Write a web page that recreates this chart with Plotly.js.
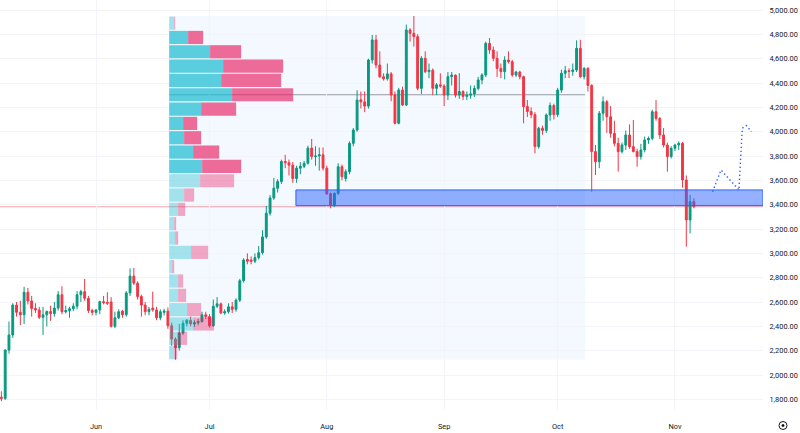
<!DOCTYPE html>
<html><head><meta charset="utf-8">
<script src="https://cdn.plot.ly/plotly-3.0.1.min.js"></script>
<style>html,body{margin:0;padding:0;background:#fff}#chart{width:800px;height:433px}</style>
</head><body><div id="chart"></div>
<script>
// ---- Daily candles from 2025-05-07 ----
const startDate = '2025-05-07';
const opens = [
1818,1808,2205,2329,2575,2515,2495,2680,2608,2547,2535,2474,2495,2522,2505,2550,2660,2520,2530,2545,2565,2660,2685,2630,2530,
2515,2535,2603,2598,2600,2400,2470,2525,2495,2675,2813,2755,2645,2575,2520,2550,2535,2470,2515,2525,2405,2295,2225,2345,2425,2450,2420,2430,2440,2495,
2480,2405,2565,2585,2510,2520,2560,2540,2615,2775,2950,2945,2935,2965,3005,3135,3330,3455,3535,3590,3755,3745,3725,3615,3700,3715,3740,3865,3795,3800,3810,
3700,3490,3395,3493,3712,3615,3671,3904,4014,4262,4245,4210,4589,4754,4548,4452,4435,4475,4301,4069,4342,4219,4836,4808,4781,4356,4603,4493,4505,4356,4385,
4375,4301,4452,4465,4301,4330,4290,4300,4310,4355,4425,4466,4726,4671,4603,4520,4493,4589,4575,4466,4490,4452,4206,4165,4140,3877,4028,4010,4137,4215,
4140,4342,4480,4500,4495,4507,4685,4452,4520,4380,3836,3753,4151,4246,4123,3986,3904,3836,3890,3973,3877,3836,3795,3850,3932,3945,4164,4109,3973,3890,3795,
3863,3890,3904,3603,3274,3425];
const highs = [
1866,2212,2440,2590,2600,2610,2725,2715,2650,2590,2560,2560,2530,2570,2600,2690,2730,2570,2560,2590,2690,2700,2790,2650,2545,
2540,2610,2650,2680,2640,2520,2540,2535,2690,2876,2880,2770,2660,2600,2560,2685,2560,2540,2545,2555,2430,2310,2420,2450,2460,2480,2450,2460,2520,2520,
2500,2620,2640,2595,2540,2590,2600,2630,2790,2960,3000,2975,3000,3060,3190,3390,3480,3620,3610,3770,3810,3770,3750,3720,3750,3760,3885,3940,3880,3870,3870,
3720,3500,3500,3740,3730,3690,3920,4030,4340,4330,4330,4600,4795,4795,4660,4480,4560,4490,4330,4360,4370,4880,4850,4951,4800,4620,4660,4560,4520,4400,4480,
4390,4490,4490,4470,4480,4340,4330,4380,4380,4450,4480,4740,4770,4700,4660,4560,4620,4660,4590,4500,4500,4460,4260,4200,4160,4040,4050,4150,4240,4230,
4360,4510,4540,4520,4560,4750,4755,4530,4530,4390,3890,4170,4290,4260,4210,4090,3950,3910,4010,4060,4096,3860,3900,3960,3960,4180,4260,4120,4030,3910,3880,
3900,3920,3915,3640,3480,3452];
const lows = [
1785,1795,2175,2305,2480,2410,2420,2580,2480,2510,2460,2330,2400,2445,2480,2530,2500,2505,2470,2525,2540,2600,2610,2510,2490,
2490,2500,2580,2575,2390,2385,2460,2470,2480,2650,2740,2620,2480,2490,2490,2520,2450,2450,2490,2380,2240,2125,2200,2330,2400,2400,2395,2410,2430,2460,
2390,2395,2550,2500,2495,2505,2510,2520,2600,2760,2910,2910,2920,2950,2990,3120,3310,3440,3500,3570,3700,3640,3580,3580,3650,3700,3730,3770,3720,3680,3680,
3480,3370,3380,3480,3600,3590,3650,3880,4000,4190,4160,4190,4560,4520,4440,4420,4420,4250,4060,4060,4210,4210,4740,4700,4340,4310,4480,4440,4300,4300,4360,
4210,4260,4380,4280,4270,4260,4260,4270,4285,4340,4390,4450,4640,4580,4450,4440,4430,4560,4450,4450,4430,4069,4120,4110,3822,3860,3975,3990,4090,4100,
4120,4320,4440,4440,4460,4490,4440,4430,4330,3507,3644,3700,4090,3990,3950,3880,3671,3820,3850,3860,3830,3712,3770,3830,3900,3930,4090,3940,3870,3671,3780,
3840,3850,3540,3055,3164,3370];
const closes = [
1808,2205,2329,2575,2515,2495,2680,2608,2547,2535,2474,2495,2522,2505,2550,2660,2520,2530,2545,2565,2660,2685,2630,2530,2515,
2535,2603,2595,2590,2400,2470,2520,2495,2675,2813,2755,2645,2575,2520,2540,2535,2470,2520,2525,2405,2295,2225,2345,2425,2450,2420,2430,2440,2495,2480,
2405,2565,2585,2510,2520,2560,2540,2615,2775,2945,2935,2935,2965,3005,3135,3330,3455,3535,3590,3755,3745,3725,3615,3700,3715,3740,3865,3795,3800,3810,3700,
3490,3395,3493,3712,3630,3671,3904,4014,4260,4245,4210,4589,4754,4548,4452,4435,4475,4301,4069,4342,4219,4836,4808,4781,4356,4603,4493,4505,4356,4385,4375,
4301,4452,4465,4301,4330,4290,4300,4310,4355,4425,4466,4726,4671,4603,4520,4493,4589,4575,4466,4490,4452,4206,4165,4140,3877,4028,4010,4137,4215,4140,
4342,4480,4500,4495,4507,4685,4452,4520,4380,3836,3753,4151,4246,4123,3986,3904,3836,3890,3973,3877,3836,3795,3850,3932,3945,4164,4109,3973,3890,3795,3863,
3890,3904,3603,3274,3425,3383];

// ---- Fixed range volume profile (rows listed top to bottom) ----
const profileStart = '2025-06-20 08:00';
const profileEnd = '2025-10-08 06:00';
const upVolume   = [5,19,41,54,52,63,32,14,15,24,33,31,15,9,5,6,22,3,9,9,18,24,8,5];
const downVolume = [1,15,31,60,60,61,35,14,17,26,39,34,10,7,2,3,17,2,5,8,14,21,10,3];
const inValueArea = [0,1,1,1,1,1,1,1,1,1,1,0,0,0,0,0,0,0,0,0,0,0,0,0];

// ---- Support zone and projected path ----
const zoneStart = '2025-07-23 20:00';
const zoneLow = 3392, zoneHigh = 3521;
const projDates = ['2025-11-10 23:00','2025-11-13 04:00','2025-11-17 22:00','2025-11-18 19:00','2025-11-19 22:00','2025-11-21 05:00'];
const projPrices = [3507, 3685, 3521, 4028, 4049, 4000];

// ---- Axes ----
const xRange = ['2025-05-06 15:07', '2025-11-24 06:28'];
const yRange = [1712.4, 5082.2];
const priceStep = 200;

// build dates
const dates = opens.map((_, i) => {
  const d = new Date(Date.UTC(2025, 4, 7 + i));
  return d.toISOString().slice(0, 10);
});

// profile price range from candles in window
const t0 = new Date(profileStart.replace(' ', 'T') + 'Z').getTime();
const t1 = new Date(profileEnd.replace(' ', 'T') + 'Z').getTime();
let pHigh = -Infinity, pLow = Infinity;
dates.forEach((d, i) => {
  const t = new Date(d + 'T00:00Z').getTime();
  if (t >= t0 - 86400000 / 2 && t <= t1) { pHigh = Math.max(pHigh, highs[i]); pLow = Math.min(pLow, lows[i]); }
});
const nRows = upVolume.length;
const rowH = (pHigh - pLow) / nRows;
const rowCenters = upVolume.map((_, i) => pHigh - (i + 0.5) * rowH);
const totals = upVolume.map((u, i) => u + downVolume[i]);
const pocIdx = totals.indexOf(Math.max(...totals));
const pocPrice = rowCenters[pocIdx];

const upColors = inValueArea.map(v => v ? 'rgba(31,188,210,0.72)' : 'rgba(31,188,210,0.38)');
const dnColors = inValueArea.map(v => v ? 'rgba(233,30,99,0.65)' : 'rgba(233,30,99,0.38)');

// xaxis2 so that profile starts at profileStart
const xs = new Date(xRange[0].replace(' ', 'T') + 'Z').getTime();
const xe = new Date(xRange[1].replace(' ', 'T') + 'Z').getTime();
const frac = (t0 - xs) / (xe - xs);
const pocWidthFrac = 0.1625;
const span = Math.max(...totals) / pocWidthFrac;
const x2Range = [-frac * span, (1 - frac) * span];

const font = {family: 'Roboto, Arial, sans-serif', size: 7.4, color: '#131722'};

const traces = [
  {
    type: 'candlestick', x: dates, open: opens, high: highs, low: lows, close: closes,
    increasing: {line: {color: '#089981', width: 1}, fillcolor: '#089981'},
    decreasing: {line: {color: '#f23645', width: 1}, fillcolor: '#f23645'},
    whiskerwidth: 0, hoverinfo: 'skip', xaxis: 'x', yaxis: 'y'
  },
  {
    type: 'bar', orientation: 'h', y: rowCenters, x: upVolume, base: upVolume.map(() => 0),
    width: rowH * 0.92, marker: {color: upColors, line: {width: 0}},
    xaxis: 'x2', yaxis: 'y', hoverinfo: 'skip'
  },
  {
    type: 'bar', orientation: 'h', y: rowCenters, x: downVolume, base: upVolume,
    width: rowH * 0.92, marker: {color: dnColors, line: {width: 0}},
    xaxis: 'x2', yaxis: 'y', hoverinfo: 'skip'
  },
  {
    type: 'scatter', mode: 'lines', x: projDates, y: projPrices,
    line: {color: '#2962ff', width: 1.4, dash: '1.4px,2.6px'}, xaxis: 'x', yaxis: 'y', hoverinfo: 'skip'
  }
];

const W = 800, H = 433, mL = 0, mR = 37, mT = 0, mB = 23;
const pw = W - mL - mR, ph = H - mT - mB;
const px2paperX = p => (p - mL) / pw;
const px2paperY = p => (H - mB - p) / ph;

const layout = {
  width: W, height: H,
  margin: {l: mL, r: mR, t: mT, b: mB, pad: 0},
  paper_bgcolor: '#ffffff', plot_bgcolor: '#ffffff',
  showlegend: false, barmode: 'overlay', boxgap: 0.3,
  font: font,
  xaxis: {
    type: 'date', range: xRange, rangeslider: {visible: false},
    tick0: '2025-06-01', dtick: 'M1', tickformat: '%b',
    showgrid: true, gridcolor: '#f2f4f9', gridwidth: 1,
    ticks: 'outside', ticklen: 9, tickcolor: 'rgba(0,0,0,0)',
    tickfont: font, zeroline: false, showline: false, fixedrange: true
  },
  xaxis2: {overlaying: 'x', range: x2Range, visible: false, fixedrange: true},
  yaxis: {
    side: 'right', range: yRange, tick0: 0, dtick: priceStep, tickformat: ',.2f',
    showgrid: true, gridcolor: '#f2f4f9', gridwidth: 1,
    ticks: 'outside', ticklen: 4, tickcolor: 'rgba(0,0,0,0)',
    tickfont: font, zeroline: false, showline: false, fixedrange: true
  },
  shapes: [
    {type: 'rect', layer: 'below', xref: 'x', yref: 'y', x0: profileStart, x1: profileEnd,
     y0: pLow, y1: pHigh, fillcolor: 'rgba(33,150,243,0.055)', line: {width: 0}},
    {type: 'line', layer: 'below', xref: 'x', yref: 'y', x0: profileStart, x1: profileEnd,
     y0: pocPrice, y1: pocPrice, line: {color: 'rgba(120,123,134,0.75)', width: 1}},
    {type: 'line', layer: 'below', xref: 'paper', yref: 'y', x0: 0, x1: 1,
     y0: closes[closes.length - 1], y1: closes[closes.length - 1],
     line: {color: 'rgba(242,54,69,0.45)', width: 1}},
    {type: 'rect', layer: 'above', xref: 'x', yref: 'y', x0: zoneStart, x1: xRange[1],
     y0: zoneLow, y1: zoneHigh, fillcolor: 'rgba(41,98,255,0.5)', line: {color: '#2962ff', width: 1}},
    {type: 'circle', xref: 'paper', yref: 'paper',
     x0: px2paperX(779), x1: px2paperX(787), y0: px2paperY(421.5), y1: px2paperY(429.5),
     line: {color: '#131722', width: 1}},
    {type: 'circle', xref: 'paper', yref: 'paper', fillcolor: '#131722',
     x0: px2paperX(781.8), x1: px2paperX(784.2), y0: px2paperY(424.3), y1: px2paperY(426.7),
     line: {color: '#131722', width: 0.5}}
  ]
};

Plotly.newPlot('chart', traces, layout, {displayModeBar: false, staticPlot: true});
</script>
</body></html>
